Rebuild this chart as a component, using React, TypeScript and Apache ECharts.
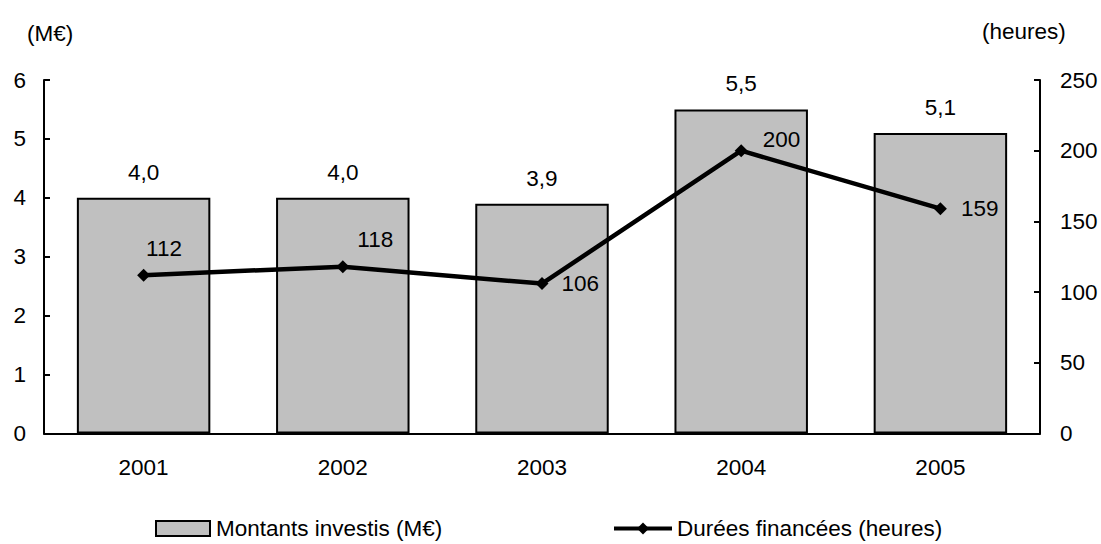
import React, { useEffect, useRef } from "react";
import * as echarts from "echarts";

const categories = ["2001", "2002", "2003", "2004", "2005"];
const montants = [4.0, 4.0, 3.9, 5.5, 5.1];
const durees = [112, 118, 106, 200, 159];
const dureeLabelOffsets: [number, number][] = [[-9, -27], [3, -27], [8, 0], [10, -11], [9, 0]];

const FONT = "Liberation Sans, Arial, sans-serif";
const FS = 22.5;

export default function App() {
  const ref = useRef<HTMLDivElement>(null);
  useEffect(() => {
    const chart = echarts.init(ref.current!, null, { renderer: "svg" });
    chart.setOption({
      animation: false,
      textStyle: { fontFamily: FONT, color: "#000" },
      grid: { left: 44, right: 61, top: 80, bottom: 110.5 },
      legend: [
        {
          data: [{ name: "Montants investis (M€)", icon: "rect" }],
          left: 155,
          top: 517,
          padding: 0,
          itemWidth: 54,
          itemHeight: 15,
          itemStyle: { borderColor: "#000", borderWidth: 2 },
          textStyle: { fontSize: FS, fontFamily: FONT, color: "#000", padding: [0, 0, 0, 1] },
        },
        {
          data: ["Durées financées (heures)"],
          left: 612,
          top: 517,
          padding: 0,
          itemWidth: 58,
          itemHeight: 15,
          lineStyle: { width: 4, color: "#000" },
          textStyle: { fontSize: FS, fontFamily: FONT, color: "#000", padding: [0, 0, 0, 0] },
        },
      ],
      graphic: [
        { type: "text", left: 27, top: 22, style: { text: "(M€)", fontSize: FS, fontFamily: FONT, fill: "#000" } },
        { type: "text", left: 982, top: 20, style: { text: "(heures)", fontSize: FS, fontFamily: FONT, fill: "#000" } },
      ],
      xAxis: {
        type: "category",
        data: categories,
        axisLine: { lineStyle: { color: "#000", width: 2 } },
        axisTick: { inside: true, length: 6, lineStyle: { color: "#000", width: 2 } },
        axisLabel: { fontSize: FS, color: "#000", fontFamily: FONT, margin: 22 },
      },
      yAxis: [
        {
          type: "value",
          min: 0,
          max: 6,
          interval: 1,
          axisLine: { show: true, lineStyle: { color: "#000", width: 2 } },
          axisTick: { show: true, inside: true, length: 6, lineStyle: { color: "#000", width: 2 } },
          axisLabel: { fontSize: FS, color: "#000", fontFamily: FONT, margin: 18 },
          splitLine: { show: false },
        },
        {
          type: "value",
          min: 0,
          max: 250,
          interval: 50,
          position: "right",
          axisLine: { show: true, lineStyle: { color: "#000", width: 2 } },
          axisTick: { show: true, inside: true, length: 6, lineStyle: { color: "#000", width: 2 } },
          axisLabel: { fontSize: FS, color: "#000", fontFamily: FONT, margin: 20 },
          splitLine: { show: false },
        },
      ],
      series: [
        {
          name: "Montants investis (M€)",
          type: "bar",
          data: montants,
          barCategoryGap: "33%",
          itemStyle: { color: "#C0C0C0", borderColor: "#000", borderWidth: 2 },
          label: {
            show: true,
            position: "top",
            distance: 14,
            fontSize: FS,
            fontFamily: FONT,
            color: "#000",
            formatter: (p: any) => p.value.toFixed(1).replace(".", ","),
          },
        },
        {
          name: "Durées financées (heures)",
          type: "line",
          yAxisIndex: 1,
          data: durees.map((v, i) => ({
            value: v,
            label: { offset: dureeLabelOffsets[i] },
          })),
          symbol: "diamond",
          symbolSize: 13,
          lineStyle: { color: "#000", width: 4.5 },
          itemStyle: { color: "#000" },
          label: {
            show: true,
            position: "right",
            distance: 5,
            fontSize: FS,
            fontFamily: FONT,
            color: "#000",
          },
        },
      ],
    });
    return () => chart.dispose();
  }, []);
  return <div ref={ref} style={{ position: "fixed", left: 0, top: 0, width: 1101, height: 544, background: "#fff" }} />;
}
